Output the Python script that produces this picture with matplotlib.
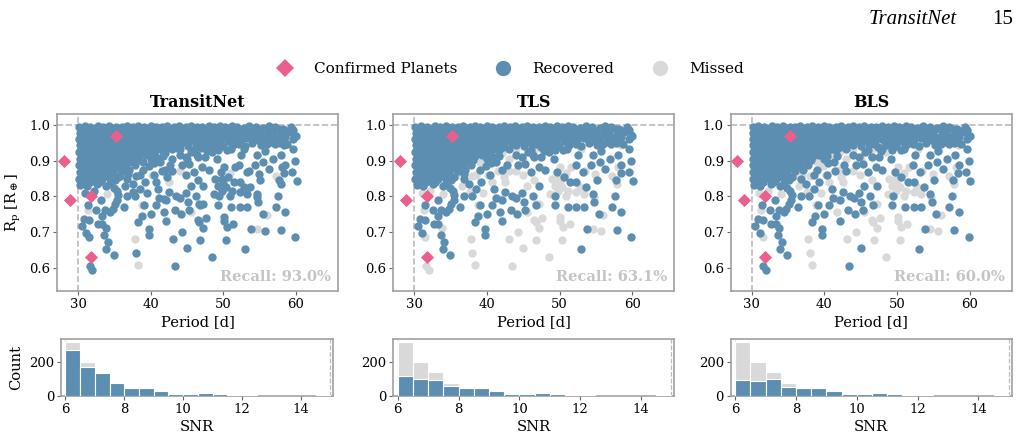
#!/usr/bin/env python
import matplotlib
matplotlib.use("Agg")
import matplotlib.pyplot as plt
from matplotlib.lines import Line2D
import numpy as np

# ---- data ----
methods = ["TransitNet", "TLS", "BLS"]
recall = [93.0, 63.1, 60.0]

confirmed = [(28.0, 0.90), (28.9, 0.79), (31.8, 0.80), (31.8, 0.63), (35.2, 0.97)]

# injections recovered by every method
found_by_all = [
    # top rows
    (30.1, 0.995), (30.9, 0.997), (31.7, 0.993), (32.8, 0.996), (33.5, 0.994), (34.3, 0.998),
    (35.2, 0.995), (36.0, 0.993), (36.7, 0.997), (37.6, 0.994), (38.3, 0.996), (39.1, 0.993),
    (40.0, 0.997), (40.7, 0.995), (41.6, 0.993), (42.3, 0.997), (43.2, 0.994), (43.9, 0.996),
    (44.8, 0.993), (45.5, 0.997), (46.4, 0.995), (47.1, 0.993), (48.0, 0.997), (48.7, 0.994),
    (49.6, 0.996), (50.3, 0.993), (51.2, 0.997), (51.9, 0.995), (52.8, 0.992), (53.6, 0.996),
    (54.5, 0.994), (55.5, 0.991), (56.3, 0.996), (57.1, 0.994), (58.2, 0.990), (59.3, 0.993),
    (30.5, 0.987), (31.3, 0.986), (32.2, 0.988), (33.1, 0.985), (33.9, 0.987), (34.8, 0.986),
    (35.6, 0.988), (36.4, 0.985), (37.2, 0.987), (38.0, 0.986), (38.7, 0.988), (39.5, 0.985),
    (40.3, 0.987), (41.1, 0.986), (42.0, 0.988), (42.8, 0.985), (43.6, 0.987), (44.4, 0.986),
    (45.2, 0.988), (46.0, 0.985), (46.8, 0.987), (47.6, 0.986), (48.4, 0.988), (49.2, 0.985),
    (50.0, 0.987), (50.8, 0.986), (51.6, 0.988), (52.4, 0.985), (53.2, 0.987), (54.0, 0.986),
    (54.9, 0.984), (56.0, 0.987), (56.8, 0.985), (57.7, 0.988), (58.7, 0.983), (59.6, 0.986),
    (30.2, 0.978), (31.1, 0.980), (32.0, 0.976), (32.9, 0.981), (33.8, 0.977), (34.6, 0.979),
    (36.3, 0.976), (37.2, 0.980), (38.0, 0.977), (38.9, 0.981), (39.7, 0.975), (40.6, 0.979),
    (41.3, 0.983), (42.1, 0.976), (43.0, 0.980), (43.8, 0.977), (44.7, 0.982), (45.6, 0.976),
    (46.5, 0.981), (47.3, 0.978), (48.2, 0.983), (49.1, 0.977), (50.0, 0.981), (50.8, 0.976),
    (51.7, 0.982), (52.5, 0.978), (53.4, 0.983), (54.2, 0.975), (55.0, 0.979), (56.8, 0.978),
    (57.9, 0.974), (58.9, 0.979), (59.8, 0.972),
    (30.6, 0.969), (31.5, 0.968), (32.4, 0.970), (33.2, 0.967), (34.1, 0.969), (35.0, 0.968),
    (35.7, 0.970), (36.6, 0.967), (37.5, 0.969), (38.4, 0.968), (39.2, 0.970), (40.1, 0.967),
    (40.9, 0.969), (41.7, 0.968), (42.5, 0.970), (43.4, 0.967), (44.2, 0.969), (45.0, 0.968),
    (45.9, 0.970), (46.8, 0.967), (47.7, 0.969), (48.5, 0.968), (49.4, 0.970), (50.3, 0.967),
    (51.1, 0.969), (52.0, 0.968), (52.9, 0.970), (53.8, 0.966), (54.6, 0.969), (55.4, 0.967),
    (56.2, 0.970), (57.0, 0.966), (58.5, 0.965),
    (30.1, 0.960), (30.9, 0.958), (31.8, 0.962), (32.6, 0.957), (33.5, 0.961), (34.4, 0.958),
    (36.1, 0.960), (37.0, 0.956), (37.8, 0.962), (38.7, 0.957), (39.5, 0.961), (40.4, 0.955),
    (41.2, 0.960), (42.0, 0.957), (42.9, 0.962), (43.7, 0.955), (44.5, 0.960), (45.4, 0.957),
    (46.3, 0.962), (47.0, 0.955), (48.0, 0.960), (48.9, 0.957), (49.8, 0.963), (50.6, 0.955),
    (51.5, 0.961), (52.4, 0.958), (53.3, 0.963), (54.8, 0.958), (55.6, 0.963), (57.5, 0.960),
    (58.2, 0.952), (59.6, 0.962), (60.0, 0.970),
    (30.6, 0.951), (31.4, 0.950), (32.3, 0.952), (33.1, 0.949), (34.0, 0.951), (34.9, 0.950),
    (35.7, 0.952), (36.6, 0.949), (37.4, 0.951), (38.3, 0.950), (39.1, 0.952), (40.0, 0.949),
    (40.8, 0.951), (41.7, 0.950), (42.5, 0.952), (43.4, 0.949), (44.9, 0.951), (46.8, 0.948),
    (48.4, 0.951), (49.4, 0.949), (51.0, 0.952), (52.2, 0.948), (54.0, 0.950), (56.0, 0.946),
    (57.8, 0.949),
    # blob
    (30.2, 0.943), (31.0, 0.940), (31.9, 0.945), (32.7, 0.939), (33.6, 0.944), (34.5, 0.941),
    (35.3, 0.946), (36.2, 0.938), (37.1, 0.944), (37.9, 0.940), (38.8, 0.945), (39.6, 0.938),
    (40.5, 0.943), (41.3, 0.947), (42.2, 0.939), (44.0, 0.944), (45.1, 0.940), (46.2, 0.946),
    (47.4, 0.938), (48.6, 0.944), (49.9, 0.940), (51.3, 0.945), (53.0, 0.942), (55.2, 0.944),
    (56.6, 0.952), (58.8, 0.946),
    (30.6, 0.933), (31.4, 0.932), (32.3, 0.934), (33.1, 0.931), (34.0, 0.933), (34.8, 0.932),
    (35.7, 0.934), (36.5, 0.931), (37.4, 0.933), (38.2, 0.932), (39.1, 0.934), (40.0, 0.931),
    (40.9, 0.933), (41.8, 0.932), (43.0, 0.934), (46.0, 0.931), (48.0, 0.933), (49.3, 0.930),
    (51.0, 0.932),
    (30.1, 0.925), (30.9, 0.922), (31.8, 0.927), (32.6, 0.921), (33.5, 0.926), (34.3, 0.923),
    (35.2, 0.928), (36.0, 0.921), (36.9, 0.926), (37.7, 0.922), (38.6, 0.928), (39.5, 0.920),
    (40.4, 0.925), (41.5, 0.929), (45.6, 0.924), (47.8, 0.927),
    (30.6, 0.914), (31.5, 0.913), (32.3, 0.915), (33.2, 0.912), (34.0, 0.914), (34.9, 0.913),
    (35.8, 0.915), (36.7, 0.912), (37.6, 0.914), (38.4, 0.913), (39.3, 0.915), (40.3, 0.912),
    (41.7, 0.914), (44.8, 0.911), (46.5, 0.909),
    (30.2, 0.905), (31.0, 0.902), (31.9, 0.907), (32.8, 0.903), (33.6, 0.908), (34.5, 0.902),
    (35.4, 0.906), (36.3, 0.901), (37.2, 0.907), (38.1, 0.903), (40.0, 0.905),
    (30.6, 0.896), (31.4, 0.895), (32.3, 0.897), (33.1, 0.894), (34.0, 0.896), (34.9, 0.895),
    (35.8, 0.897), (36.8, 0.894), (37.6, 0.896), (40.5, 0.893),
    (30.1, 0.887), (31.0, 0.884), (31.8, 0.889), (32.7, 0.883), (33.5, 0.888), (34.4, 0.885),
    (35.3, 0.890), (36.5, 0.884),
    (30.6, 0.877), (31.5, 0.876), (32.3, 0.878), (33.2, 0.875), (34.0, 0.877), (34.9, 0.876),
    (35.8, 0.878), (37.0, 0.874),
    (30.2, 0.868), (31.1, 0.865), (32.0, 0.870), (32.9, 0.864), (33.8, 0.869), (34.8, 0.866),
    (36.0, 0.871),
    (30.6, 0.858), (31.5, 0.857), (32.4, 0.859), (33.7, 0.856), (34.6, 0.858), (35.5, 0.855),
    (30.1, 0.850), (30.9, 0.847), (32.2, 0.852), (33.3, 0.848), (34.2, 0.853), (35.1, 0.846),
    (30.6, 0.840), (31.6, 0.839), (32.9, 0.841), (34.4, 0.838),
    (30.3, 0.832), (31.2, 0.829), (32.6, 0.834), (33.9, 0.828), (34.9, 0.823),
    # middle
    (37.8, 0.887), (39.0, 0.873), (40.4, 0.859), (41.3, 0.896), (42.7, 0.887), (44.3, 0.887),
    (45.3, 0.891), (46.0, 0.868), (47.1, 0.882), (48.0, 0.873), (49.2, 0.905), (49.7, 0.868),
    (50.6, 0.854), (51.5, 0.840), (52.2, 0.887), (53.2, 0.868), (54.3, 0.887), (54.6, 0.915),
    (55.5, 0.896), (55.7, 0.926), (56.9, 0.905), (57.1, 0.948), (58.0, 0.915), (58.5, 0.887),
    (59.9, 0.900), (59.6, 0.933), (36.8, 0.850), (37.5, 0.835), (38.5, 0.820), (39.2, 0.840),
    (41.0, 0.820), (42.5, 0.812), (43.5, 0.800), (44.8, 0.810), (46.3, 0.800), (47.2, 0.830),
    (49.4, 0.800), (52.3, 0.840), (53.7, 0.826), (54.6, 0.807), (56.3, 0.877), (58.4, 0.866),
    (57.7, 0.845), (55.1, 0.845), (59.5, 0.868), (47.5, 0.910), (44.0, 0.915), (50.5, 0.930),
    (52.5, 0.915), (36.8, 0.800), (37.9, 0.800), (41.2, 0.795), (44.05, 0.796), (45.1, 0.785),
    (42.1, 0.789),
    # lower
    (31.4, 0.777), (30.5, 0.716), (31.1, 0.697), (31.5, 0.735), (30.8, 0.738), (32.5, 0.763),
    (33.2, 0.789), (33.7, 0.761), (33.3, 0.745), (32.7, 0.724), (33.3, 0.724), (33.6, 0.693),
    (34.1, 0.672), (33.9, 0.653), (34.9, 0.635), (34.4, 0.756), (34.75, 0.766), (35.1, 0.778),
    (35.4, 0.790), (35.5, 0.803), (36.3, 0.771), (35.3, 0.815), (38.75, 0.745), (38.3, 0.728),
    (39.1, 0.775), (39.7, 0.710), (39.7, 0.693), (40.0, 0.752), (40.7, 0.777), (42.1, 0.730),
    (43.3, 0.761), (44.2, 0.752), (45.3, 0.761), (46.75, 0.775), (49.3, 0.775), (51.1, 0.770),
    (52.3, 0.769), (53.3, 0.769), (53.0, 0.653), (53.8, 0.710), (55.4, 0.750), (57.2, 0.769),
    (57.9, 0.707), (58.5, 0.756), (59.9, 0.687), (60.1, 0.842), (57.6, 0.800), (54.8, 0.783),
]

# recovered by TransitNet only
found_by_tn_only = [
    (31.5, 0.686), (38.0, 0.641), (43.1, 0.681), (44.3, 0.700), (46.7, 0.728), (46.8, 0.679),
    (48.5, 0.630), (50.1, 0.742), (50.1, 0.732), (50.4, 0.677), (50.5, 0.714), (51.4, 0.722),
    (55.7, 0.703), (47.6, 0.740), (47.2, 0.712), (46.5, 0.733),
    (43.6, 0.935), (46.9, 0.935), (50.1, 0.882), (50.4, 0.826), (48.7, 0.807), (41.8, 0.793),
    (37.6, 0.812), (40.7, 0.840), (52.9, 0.933), (58.4, 0.943), (42.3, 0.855), (44.9, 0.860),
    (46.5, 0.845), (48.9, 0.850), (39.5, 0.810), (36.5, 0.830), (32.2, 0.815), (31.0, 0.810),
    (51.6, 0.882), (53.5, 0.870), (54.9, 0.863), (49.8, 0.849), (50.0, 0.838), (49.3, 0.830),
    (49.8, 0.816), (51.2, 0.816), (52.3, 0.812), (53.3, 0.807), (54.7, 0.799), (47.2, 0.780),
    (46.7, 0.780), (50.9, 0.800), (52.8, 0.826), (57.9, 0.835), (58.1, 0.882), (43.0, 0.905),
    (45.0, 0.905), (39.0, 0.895), (42.0, 0.922), (44.0, 0.932), (38.0, 0.858), (35.8, 0.858),
]

# recovered by TransitNet and BLS, missed by TLS
found_by_tn_bls = [
    (31.6, 0.606), (31.96, 0.595), (33.8, 0.712), (43.4, 0.604), (45.0, 0.655),
    (38.5, 0.860), (43.0, 0.870), (45.5, 0.830), (41.5, 0.870),
]

# recovered by TransitNet and TLS, missed by BLS
found_by_tn_tls = [
    (44.5, 0.967), (45.2, 0.950), (40.8, 0.910), (42.0, 0.875), (47.6, 0.950), (46.4, 0.915),
    (48.5, 0.925), (39.8, 0.885), (41.8, 0.755), (36.9, 0.862),
]

# missed by every method
missed_by_all = [
    (31.3, 0.761), (34.0, 0.808), (37.8, 0.680), (38.3, 0.609), (38.8, 0.775), (45.5, 0.755),
    (54.6, 0.710), (56.0, 0.749), (57.2, 0.857), (50.9, 0.865), (40.2, 0.860), (42.5, 0.840),
    (44.0, 0.870), (33.0, 0.840),
]

snr_edges = np.arange(6.0, 15.01, 0.5)
count_total = [318, 202, 141, 79, 50, 50, 28, 12, 12, 20, 10, 6, 6, 0, 0, 0, 0, 6]
count_found = {
    "TransitNet": [272, 171, 137, 75, 50, 50, 28, 12, 12, 20, 10, 6, 6, 0, 0, 0, 0, 6],
    "TLS": [120, 99, 94, 58, 48, 46, 28, 12, 12, 20, 10, 6, 6, 0, 0, 0, 0, 6],
    "BLS": [95, 89, 100, 53, 50, 46, 28, 12, 12, 20, 10, 6, 6, 0, 0, 0, 0, 6],
}

BLUE = "#5b8eb0"
GREY = "#d9d9d9"
PINK = "#ec5e8c"


def split(method):
    groups = {
        "TransitNet": (found_by_all + found_by_tn_only + found_by_tn_bls + found_by_tn_tls,
                       missed_by_all),
        "TLS": (found_by_all + found_by_tn_tls,
                found_by_tn_only + found_by_tn_bls + missed_by_all),
        "BLS": (found_by_all + found_by_tn_bls,
                found_by_tn_only + found_by_tn_tls + missed_by_all),
    }
    found, missed = groups[method]
    return np.array(found), np.array(missed)


def style_axes(ax):
    for s in ax.spines.values():
        s.set_color("#a0a0a0")
        s.set_linewidth(1.2)
    ax.tick_params(labelsize=9.5, length=3, width=0.8, color="#666666", pad=2)


def main():
    plt.rcParams.update({
        "font.family": "DejaVu Serif",
        "mathtext.fontset": "dejavuserif",
    })
    fig = plt.figure(figsize=(10.2, 4.37), dpi=100)

    lefts = [0.0559, 0.3856, 0.7164]
    hist_lefts = [0.0598, 0.3856, 0.7164]
    hist_widths = [0.267, 0.2755, 0.2755]
    cx, cy = zip(*confirmed)

    for i, m in enumerate(methods):
        ax = fig.add_axes((lefts[i], 0.3348, 0.2755, 0.4037))
        found, missed = split(m)
        ax.axvline(30, color="#bbbbbb", ls="--", lw=1.2, zorder=1)
        ax.axhline(1.0, color="#bbbbbb", ls="--", lw=1.2, zorder=1)
        ax.scatter(missed[:, 0], missed[:, 1], s=36, color=GREY, linewidths=0, zorder=2)
        ax.scatter(found[:, 0], found[:, 1], s=36, color=BLUE, linewidths=0, zorder=3)
        ax.scatter(cx, cy, s=45, marker="D", color=PINK, linewidths=0, zorder=4)
        ax.set_xlim(27.1, 65.8)
        ax.set_ylim(0.536, 1.03)
        ax.set_xticks([30, 40, 50, 60])
        ax.set_yticks([0.6, 0.7, 0.8, 0.9, 1.0])
        ax.set_title(m, fontsize=11.5, fontweight="bold", pad=5)
        ax.set_xlabel("Period [d]", fontsize=10.6, labelpad=3)
        if i == 0:
            ax.set_ylabel(r"R$_\mathrm{p}$ [R$_\oplus$]", fontsize=10.6)
        ax.text(0.975, 0.04, f"Recall: {recall[i]:.1f}%", transform=ax.transAxes,
                ha="right", va="bottom", fontsize=10.5, fontweight="bold",
                color="#c4c4c4", zorder=5)
        style_axes(ax)

        hx = fig.add_axes((hist_lefts[i], 0.0938, hist_widths[i], 0.1297))
        hx.bar(snr_edges[:-1], count_total, width=0.5, align="edge", color=GREY,
               edgecolor="white", linewidth=0.8, zorder=2)
        hx.bar(snr_edges[:-1], count_found[m], width=0.5, align="edge", color=BLUE,
               edgecolor="white", linewidth=0.8, zorder=3)
        hx.axvline(15, color="#bbbbbb", ls="--", lw=0.9, zorder=1)
        hx.axvline(6, color="#e6e6e6", ls="--", lw=0.9, zorder=1)
        hx.set_xlim(5.85, 15.1)
        hx.set_xticks([6, 8, 10, 12, 14])
        hx.set_yticks([0, 200])
        hx.set_xlabel("SNR", fontsize=10.6, labelpad=3)
        if i == 0:
            hx.set_ylabel("Count", fontsize=10.6)
        style_axes(hx)

    handles = [
        Line2D([], [], marker="D", color=PINK, ls="none", markersize=9, markeredgewidth=0),
        Line2D([], [], marker="o", color=BLUE, ls="none", markersize=11, markeredgewidth=0),
        Line2D([], [], marker="o", color=GREY, ls="none", markersize=11, markeredgewidth=0),
    ]
    fig.legend(handles, ["Confirmed Planets", "Recovered", "Missed"], loc="center",
               bbox_to_anchor=(507 / 1020, 1 - 69 / 437), ncol=3, frameon=False,
               fontsize=11, columnspacing=2.0, handletextpad=0.9)

    fig.text(957 / 1020, 1 - 24 / 437, "TransitNet", family="Liberation Serif",
             style="italic", fontsize=15, ha="right", va="baseline")
    fig.text(1013 / 1020, 1 - 24 / 437, "15", family="Liberation Serif",
             fontsize=15, ha="right", va="baseline")

    fig.savefig("out.png", dpi=100)


if __name__ == "__main__":
    main()
